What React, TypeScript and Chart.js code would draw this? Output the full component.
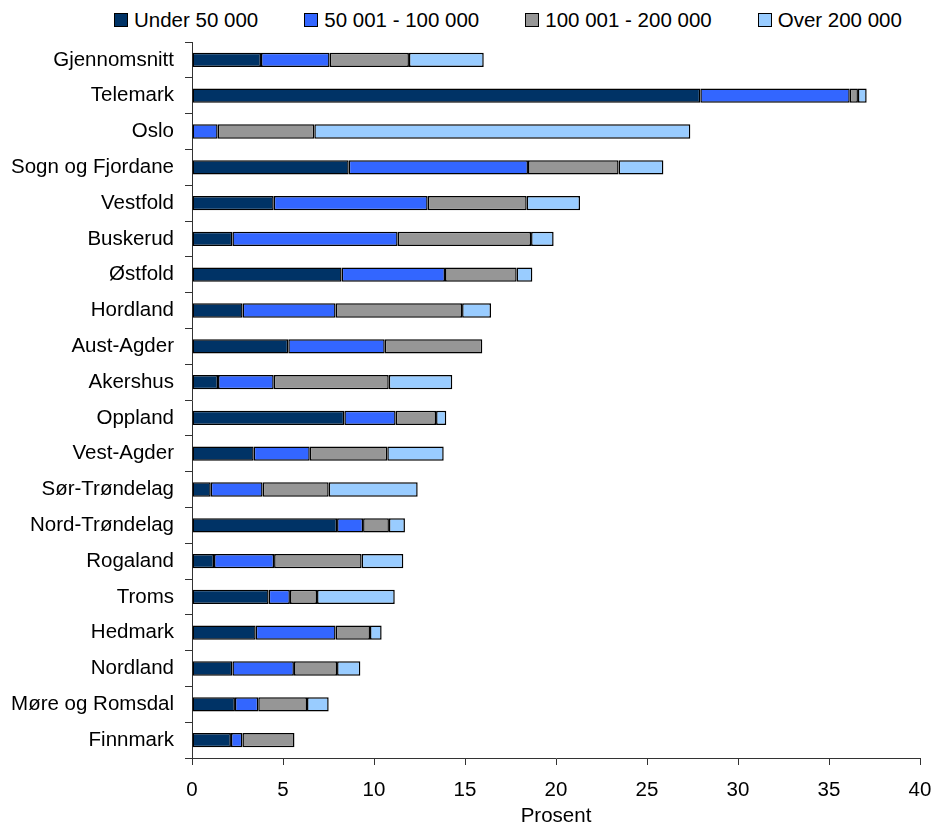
import React, { useEffect, useRef } from "react";
import { Chart, registerables } from "chart.js";

Chart.register(...registerables);

const categories = [
  "Gjennomsnitt",
  "Telemark",
  "Oslo",
  "Sogn og Fjordane",
  "Vestfold",
  "Buskerud",
  "Østfold",
  "Hordland",
  "Aust-Agder",
  "Akershus",
  "Oppland",
  "Vest-Agder",
  "Sør-Trøndelag",
  "Nord-Trøndelag",
  "Rogaland",
  "Troms",
  "Hedmark",
  "Nordland",
  "Møre og Romsdal",
  "Finnmark",
];

const seriesNames = ["Under 50 000", "50 001 - 100 000", "100 001 - 200 000", "Over 200 000"];

const under50k = [3.79, 27.93, 0, 8.61, 4.49, 2.22, 8.22, 2.78, 5.29, 1.43, 8.37, 3.39, 1.03, 7.97, 1.21, 4.21, 3.5, 2.22, 2.36, 2.14];
const from50kTo100k = [3.77, 8.21, 1.41, 9.85, 8.46, 9.08, 5.68, 5.11, 5.3, 3.06, 2.82, 3.08, 2.85, 1.43, 3.3, 1.17, 4.39, 3.38, 1.28, 0.63];
const from100kTo200k = [4.36, 0.45, 5.31, 4.98, 5.44, 7.33, 3.94, 6.95, 5.36, 6.32, 2.22, 4.26, 3.63, 1.42, 4.81, 1.49, 1.89, 2.37, 2.68, 2.86];
const over200k = [4.11, 0.48, 20.66, 2.46, 2.93, 1.24, 0.86, 1.59, 0, 3.49, 0.56, 3.1, 4.89, 0.88, 2.29, 4.27, 0.64, 1.28, 1.19, 0];

const seriesColors = ["#003366", "#3366FF", "#969696", "#99CCFF"];

const xMin = 0;
const xMax = 40;
const xStep = 5;
const xTitle = "Prosent";

const FONT = '"Liberation Sans", Arial, Helvetica, sans-serif';
const FONT_SIZE = 20.5;

export default function App() {
  const canvasRef = useRef<HTMLCanvasElement>(null);

  useEffect(() => {
    const series = [under50k, from50kTo100k, from100kTo200k, over200k];
    const font = { family: FONT, size: FONT_SIZE };
    const chart = new Chart(canvasRef.current as HTMLCanvasElement, {
      type: "bar",
      data: {
        labels: categories,
        datasets: series.map((d, i) => ({
          label: seriesNames[i],
          data: d,
          backgroundColor: seriesColors[i],
          borderColor: "#000000",
          borderWidth: 1.5,
          borderSkipped: false,
          barPercentage: 0.4,
          categoryPercentage: 1,
        })),
      },
      options: {
        indexAxis: "y",
        responsive: false,
        animation: false,
        layout: { padding: { top: 42, right: 14, bottom: 0, left: 0 } },
        plugins: {
          legend: { display: false },
          tooltip: { enabled: false },
        },
        scales: {
          x: {
            stacked: true,
            min: xMin,
            max: xMax,
            ticks: { stepSize: xStep, color: "#000", padding: 13, font },
            grid: { drawOnChartArea: false, tickLength: 7, color: "#333" },
            border: { color: "#333" },
            title: {
              display: true,
              text: xTitle,
              color: "#000",
              font,
              padding: { top: 0, bottom: 0 },
            },
            afterFit: (s: any) => {
              s.height = 71;
              s.paddingLeft = 0;
              s.paddingRight = 0;
            },
          },
          y: {
            stacked: true,
            ticks: { color: "#000", padding: 11, font },
            grid: { drawOnChartArea: false, tickLength: 7, color: "#333" },
            border: { color: "#333" },
            afterFit: (s: any) => {
              s.width = 192;
              s.paddingTop = 0;
              s.paddingBottom = 0;
            },
          },
        },
      },
    } as any);
    return () => chart.destroy();
  }, []);

  return (
    <div>
      <div
        style={{
          position: "absolute",
          left: 114,
          top: 8,
          height: 24,
          display: "flex",
          alignItems: "center",
          gap: 46,
          fontFamily: FONT,
          fontSize: FONT_SIZE,
          lineHeight: "24px",
          color: "#000",
          whiteSpace: "nowrap",
        }}
      >
        {seriesNames.map((name, i) => (
          <div key={name} style={{ display: "flex", alignItems: "center" }}>
            <span
              style={{
                display: "inline-block",
                width: 14,
                height: 14,
                boxSizing: "border-box",
                border: "1px solid #000",
                background: seriesColors[i],
                marginRight: 6,
              }}
            />
            <span>{name}</span>
          </div>
        ))}
      </div>
      <canvas
        ref={canvasRef}
        width={934}
        height={829}
        style={{ position: "absolute", left: 0, top: 0, width: 934, height: 829, display: "block" }}
      />
    </div>
  );
}
